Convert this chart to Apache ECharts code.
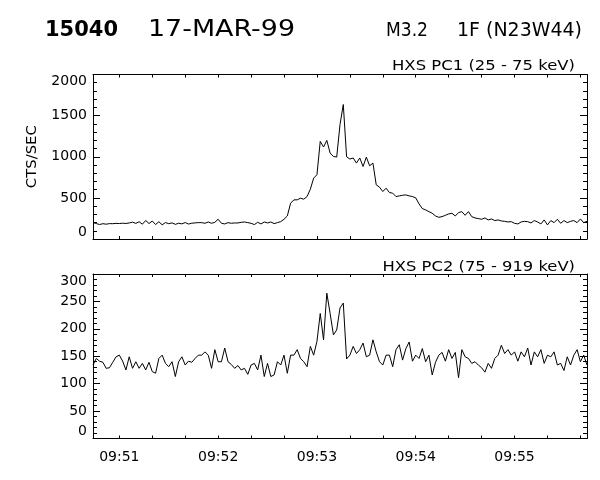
<!DOCTYPE html>
<html><head><meta charset="utf-8">
<script src="https://cdn.jsdelivr.net/npm/echarts@6/dist/echarts.min.js"></script>
<style>html,body{margin:0;padding:0;background:#fff}#c{width:600px;height:480px}</style>
</head><body><div id="c"></div>
<script>
// Time sampling: seconds of day, first sample at 09:50:44, one sample every 2 s
const START_SEC = 35444;
const STEP_SEC = 2;

// HXS PC1 (25 - 75 keV), counts/s
const pc1Counts = [
  200,188,176,186,180,187,186,190,188,192,189,195,205,190,210,180,225,188,218,176,210,172,200,186,196,178,192,184,200,182,192,196,199,
  199,191,207,191,203,240,191,183,199,191,195,195,203,207,199,191,175,203,183,207,195,207,187,199,211,240,280,435,476,476,496,484,516,606,740,781,1187,1118,1199,1045,1004,996,1391,1635,1000,972,985,923,985,882,996,890,923,659,630,577,618,565,557,516,524,
  532,536,524,516,500,427,370,354,333,313,280,264,272,288,305,313,280,321,333,288,333,272,256,248,240,256,232,244,224,232,219,215,207,211,191,183,207,215,211,195,224,207,183,232,171,224,199,240,191,224,199,215,224,199,244,199,215
];

// HXS PC2 (75 - 919 keV), counts/s
const pc2Counts = [
  134,146,141,139,128,129,139,149,152,141,125,149,128,140,128,137,125,139,122,119,146,152,137,131,140,113,140,149,134,141,139,146,152,
  152,158,152,128,162,140,140,165,140,135,128,133,125,128,117,134,137,125,152,113,137,113,116,140,134,152,119,152,152,162,146,140,131,168,152,177,228,180,265,228,189,198,238,247,145,152,168,155,162,174,149,152,180,158,140,134,152,152,131,162,171,
  143,164,176,141,152,146,164,140,152,116,139,152,157,141,162,146,157,111,162,149,146,137,140,134,129,121,137,128,146,152,170,155,162,152,158,141,158,149,165,134,158,149,162,137,152,149,158,134,137,124,149,134,152,162,140,152,134
];

const tickSeconds = [35460,35480,35500,35520,35540,35560,35580,35600,35620,35640,35660,35680,35700,35720,35740];
const labelSeconds = [35460,35520,35580,35640,35700];
const tickLabels = ['09:51','09:52','09:53','09:54','09:55'];

const times = pc1Counts.map((_, i) => START_SEC + STEP_SEC * i);
const END_SEC = times[times.length - 1];
const FONT = 'DejaVu Sans';
const BLACK = '#000';
const labelFmt = v => { const k = labelSeconds.indexOf(v); return k >= 0 ? tickLabels[k] : ''; };

function xAxis(gridIndex, position, labels) {
  return {
    type: 'value', gridIndex, position, min: START_SEC, max: END_SEC,
    axisLine: { show: true, onZero: false, lineStyle: { color: BLACK, width: 1 } },
    axisTick: { show: true, inside: true, length: 3, customValues: tickSeconds.slice(), lineStyle: { color: BLACK, width: 1 } },
    axisLabel: labels
      ? { show: true, customValues: labelSeconds.slice(), formatter: labelFmt, color: BLACK, fontFamily: FONT, fontSize: 14, margin: 12 }
      : { show: false },
    splitLine: { show: false }
  };
}
function yAxis(gridIndex, position, max, interval, labels) {
  return {
    type: 'value', gridIndex, position, min: 0, max, interval,
    axisLine: { show: true, onZero: false, lineStyle: { color: BLACK, width: 1 } },
    axisTick: { show: true, inside: true, length: 7, lineStyle: { color: BLACK, width: 1 } },
    minorTick: { show: true, splitNumber: 5, length: 4, lineStyle: { color: BLACK, width: 1 } },
    splitLine: { show: false }, minorSplitLine: { show: false },
    axisLabel: labels
      ? { show: true, color: BLACK, fontFamily: FONT, fontSize: 14, margin: 6, formatter: v => String(v),
          verticalAlignMinLabel: 'bottom', verticalAlignMaxLabel: 'top' }
      : { show: false }
  };
}

const mctx = document.createElement('canvas').getContext('2d');
function fitText(text, font, x, y, width, rotation) {
  mctx.font = font;
  const w = mctx.measureText(text).width;
  return { type: 'text', x, y, rotation: rotation || 0, scaleX: width / w, silent: true,
    style: { text, font, fill: BLACK, textAlign: 'left', textVerticalAlign: 'middle', align: 'left', verticalAlign: 'middle' } };
}

const option = {
  animation: false,
  backgroundColor: '#fff',
  grid: [
    { left: 93, top: 74.5, width: 494, height: 164.5 },
    { left: 93, top: 274, width: 494, height: 164.5 }
  ],
  xAxis: [xAxis(0, 'bottom', false), xAxis(0, 'top', false), xAxis(1, 'bottom', true), xAxis(1, 'top', false)],
  yAxis: [yAxis(0, 'left', 2000, 500, true), yAxis(0, 'right', 2000, 500, false),
          yAxis(1, 'left', 300, 50, true), yAxis(1, 'right', 300, 50, false)],
  series: [
    { type: 'line', xAxisIndex: 0, yAxisIndex: 0, showSymbol: false, symbol: 'none',
      lineStyle: { color: BLACK, width: 1 }, data: times.map((t, i) => [t, pc1Counts[i]]) },
    { type: 'line', xAxisIndex: 2, yAxisIndex: 2, showSymbol: false, symbol: 'none',
      lineStyle: { color: BLACK, width: 1 }, data: times.map((t, i) => [t, pc2Counts[i]]) }
  ],
  graphic: [
    fitText('15040', 'bold 22px "DejaVu Sans"', 45, 30, 73),
    fitText('17-MAR-99', '23px "DejaVu Sans"', 148, 30, 147),
    fitText('M3.2', '20px "DejaVu Sans"', 386, 31, 42),
    fitText('1F (N23W44)', '20px "DejaVu Sans"', 457, 31, 125),
    fitText('HXS PC1 (25 - 75 keV)', '14px "DejaVu Sans"', 392, 66.5, 183),
    fitText('HXS PC2 (75 - 919 keV)', '14px "DejaVu Sans"', 382.5, 267, 192.5),
    fitText('CTS/SEC', '14px "DejaVu Sans"', 32.3, 188.2, 63, Math.PI / 2)
  ]
};
echarts.init(document.getElementById('c')).setOption(option);
</script>
</body></html>
